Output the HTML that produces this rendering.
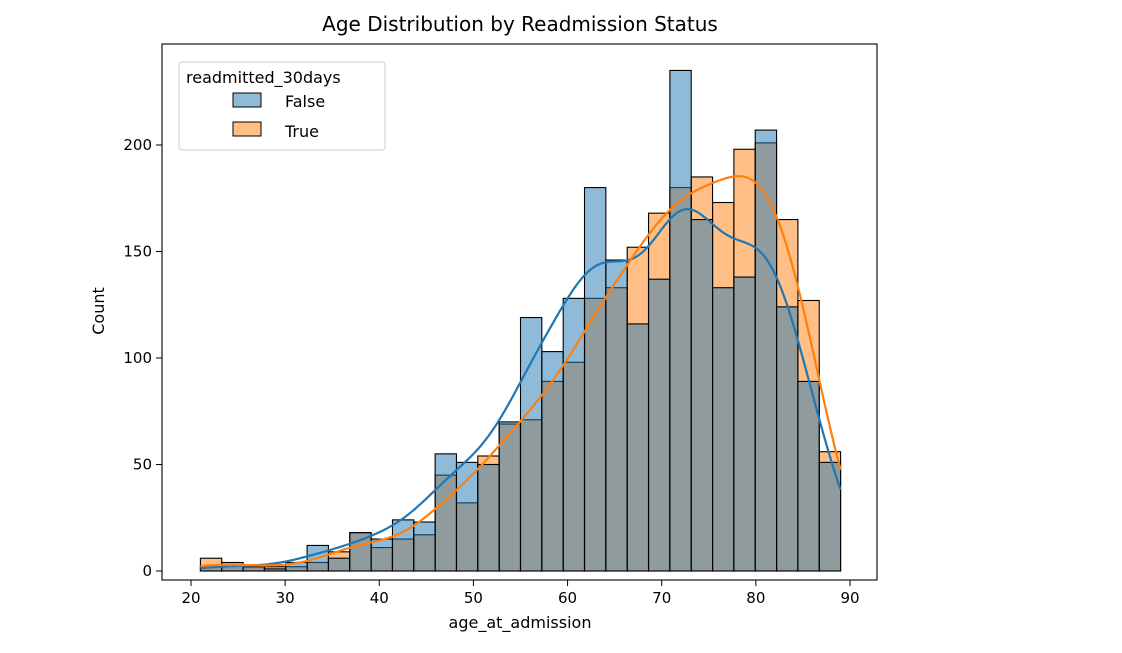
<!DOCTYPE html>
<html><head><meta charset="utf-8"><style>
body{margin:0;background:#fff;}
svg text{font-family:"DejaVu Sans","Liberation Sans",sans-serif;fill:#000;}
</style></head><body>
<svg id="chart" width="1122" height="648">
<text x="520" y="31" font-size="20" text-anchor="middle">Age Distribution by Readmission Status</text>
<g id="bars"></g>
<g id="kde"></g>
<rect x="162" y="44" width="715" height="536" fill="none" stroke="#000" stroke-width="1.1"/>
<g id="axes"></g>
<text x="520" y="628" font-size="16" text-anchor="middle">age_at_admission</text>
<text transform="translate(104,311) rotate(-90)" font-size="16" text-anchor="middle">Count</text>
<g>
<rect x="179" y="62" width="206" height="88" rx="3" fill="#fff" fill-opacity="0.8" stroke="#ccc"/>
<text x="186" y="83" font-size="16">readmitted_30days</text>
<g><rect x="233" y="93" width="28" height="14" fill="rgba(31,119,180,0.5)" stroke="#000"/><text x="285" y="107" font-size="16">False</text></g>
<g><rect x="233" y="122" width="28" height="14" fill="rgba(255,127,14,0.5)" stroke="#000"/><text x="285" y="137" font-size="16">True</text></g>
</g>
</svg>
<script>
const binStart = 21, binEnd = 89;
const falseCounts = [2,4,2,1,4,12,6,18,15,24,23,55,51,50,70,119,103,128,180,146,116,137,235,165,133,138,207,124,89,51];
const trueCounts  = [6,3,2,2,2,4,9,18,11,15,17,45,32,54,69,71,89,98,128,133,152,168,180,185,173,198,201,165,127,56];
const xTicks = [20,30,40,50,60,70,80,90];
const yTicks = [0,50,100,150,200];

const NS="http://www.w3.org/2000/svg";
function X(v){return 191+(v-20)*(850-191)/70;}
function Y(v){return 571-v*(571-145)/200;}
function mk(tag,attrs,parent){const e=document.createElementNS(NS,tag);for(const k in attrs)e.setAttribute(k,attrs[k]);parent.appendChild(e);return e;}
const nb=falseCounts.length, bw=(binEnd-binStart)/nb;
const bars=document.getElementById('bars');
[[trueCounts,'rgba(255,127,14,0.5)','true'],[falseCounts,'rgba(31,119,180,0.5)','false']].forEach(([arr,col,nm])=>{
  arr.forEach((c,i)=>{
    const x0=X(binStart+i*bw),x1=X(binStart+(i+1)*bw);
    const r=mk('rect',{x:x0,y:Y(c),width:x1-x0,height:Y(0)-Y(c),fill:col,stroke:'#000','stroke-width':1.1},bars);
    
    
  });
});
const kde=document.getElementById('kde');
[[falseCounts,'#1f77b4','false'],[trueCounts,'#ff7f0e','true']].forEach(([arr,col,nm])=>{
  let n=0,m=0;arr.forEach((c,i)=>{n+=c;m+=c*(binStart+(i+.5)*bw);});m/=n;
  let v=0;arr.forEach((c,i)=>{const d=binStart+(i+.5)*bw-m;v+=c*d*d;});const sd=Math.sqrt(v/(n-1));
  const h=1.25*sd*Math.pow(n,-0.2);
  let d='';
  for(let k=0;k<=200;k++){
    const x=binStart+k*(binEnd-binStart)/200;let s=0;
    arr.forEach((c,i)=>{const z=(x-(binStart+(i+.5)*bw))/h;s+=c*Math.exp(-0.5*z*z);});
    const dens=s/(n*h*Math.sqrt(2*Math.PI));
    d+=(k?'L':'M')+X(x).toFixed(1)+','+Y(dens*n*bw).toFixed(1);
  }
  const p=mk('path',{d:d,fill:'none',stroke:col,'stroke-width':2.2},kde);
  
  
});
const ax=document.getElementById('axes');
xTicks.forEach(t=>{
  mk('line',{x1:X(t),x2:X(t),y1:580,y2:586,stroke:'#000'},ax);
  const tx=mk('text',{x:X(t),y:603,'font-size':15,'text-anchor':'middle'},ax);tx.textContent=t;
  
  
});
yTicks.forEach(t=>{
  mk('line',{x1:156,x2:162,y1:Y(t),y2:Y(t),stroke:'#000'},ax);
  const tx=mk('text',{x:152,y:Y(t)+5,'font-size':15,'text-anchor':'end'},ax);tx.textContent=t;
  
  
});
</script>
</body></html>
